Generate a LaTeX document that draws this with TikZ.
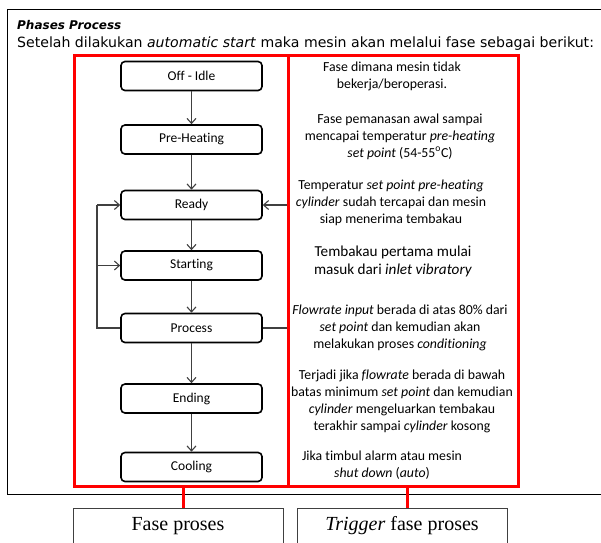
\documentclass[tikz,border=0pt]{standalone}
\usepackage{fontspec}
\setmainfont{Carlito}[Ligatures=NoCommon]
\newfontfamily\verd{DejaVu Sans}
\newfontfamily\tnr{Liberation Serif}
\usetikzlibrary{arrows.meta}
\definecolor{redb}{RGB}{255,0,0}
\definecolor{lineg}{RGB}{64,64,64}
\begin{document}
\begin{tikzpicture}[x=1pt,y=-1pt,
  phasebox/.style={draw=black, line width=1.6pt, rounded corners=4pt, minimum width=141pt, minimum height=29pt, inner sep=0pt, font=\fontsize{13.5}{15}\selectfont, fill=white},
  flow/.style={draw=lineg, line width=1.1pt, -{Straight Barb[length=5pt,width=9pt]}},
  link/.style={draw=lineg, line width=1.1pt},
  desc/.style={align=center, font=\fontsize{13.8}{17}\selectfont, inner sep=0pt},
  redframe/.style={draw=redb, line width=3pt},
  capbox/.style={draw=black!75, line width=0.8pt}
]
\useasboundingbox (0,0) rectangle (601,542);
\fill[white] (0,0) rectangle (601,542);
% outer frame
\draw[line width=0.9pt] (602,9) -- (7,9) -- (7,494) -- (602,494);
% header
\node[anchor=base west, inner sep=0pt, font=\verd\bfseries\itshape\fontsize{12}{13}\selectfont] (title) at (17,29) {Phases Process};
\node[anchor=base west, inner sep=0pt, font=\verd\fontsize{14.1}{15}\selectfont] (sub) at (17,47) {Setelah dilakukan \textit{automatic start} maka mesin akan melalui fase sebagai berikut:};
% red frames
\draw[redframe] (74,55) rectangle (288,486);
\draw[redframe] (288,55) rectangle (518,486);
\coordinate (lb) at (183,486);
\coordinate (rb) at (407,486);
% bottom caption boxes
\draw[capbox] (73,508) -- (73,543) (73,508) -- (283,508) -- (283,543);
\draw[capbox] (297,508) -- (297,543) (297,508) -- (507,508) -- (507,543);
\node[font=\tnr\fontsize{20}{22}\selectfont, inner sep=0pt] (capl) at (178,526) {Fase proses};
\node[font=\tnr\fontsize{20}{22}\selectfont, inner sep=0pt] (capr) at (402,526) {\textit{Trigger} fase proses};
\draw[redb, line width=3pt] (lb) -- (183,508);
\draw[redb, line width=3pt] (rb) -- (407,508);
% phase boxes
\node[phasebox] (off) at (191.5,76) {Off - Idle};
\node[phasebox] (pre) at (191.5,139.5) {Pre-Heating};
\node[phasebox] (ready) at (191.5,205) {Ready};
\node[phasebox] (start) at (191.5,265.5) {Starting};
\node[phasebox] (proc) at (191.5,328) {Process};
\node[phasebox] (end) at (191.5,398.5) {Ending};
\node[phasebox] (cool) at (191.5,467) {Cooling};
\draw[flow] (off) -- (pre);
\draw[flow] (pre) -- (ready);
\draw[flow] (ready) -- (start);
\draw[flow] (start) -- (proc);
\draw[flow] (proc) -- (end);
\draw[flow] (end) -- (cool);
% loops
\coordinate (lx) at (97,328);
\draw[link] (proc.west) -- (lx) -- (97,205);
\draw[flow] (97,205) -- (ready.west);
\draw[flow] (97,265.5) -- (start.west);
\coordinate (rx) at (287,328);
\draw[link] (proc.east) -- (rx);
\coordinate (ry) at (287,205);
\draw[flow] (ry) -- (ready.east);
% descriptions
\node[desc] (d1) at (392,76) {Fase dimana mesin tidak\\bekerja/beroperasi.};
\node[desc] (d2) at (400,136.5) {Fase pemanasan awal sampai\\mencapai temperatur \textit{pre-heating}\\\textit{set point} (54-55\textsuperscript{o}C)};
\node[desc] (d3) at (391,203) {Temperatur \textit{set point pre-heating}\\\textit{cylinder} sudah tercapai dan mesin\\siap menerima tembakau};
\node[desc, font=\fontsize{15.2}{18}\selectfont] (d4) at (393,261) {Tembakau pertama mulai\\masuk dari \textit{inlet vibratory}};
\node[desc] (d5) at (400,328) {\textit{Flowrate input} berada di atas 80\% dari\\\textit{set point} dan kemudian akan\\melakukan proses \textit{conditioning}};
\node[desc] (d6) at (402,401.5) {Terjadi jika \textit{flowrate} berada di bawah\\batas minimum \textit{set point} dan kemudian\\\textit{cylinder} mengeluarkan tembakau\\terakhir sampai \textit{cylinder} kosong};
\node[desc] (d7) at (382,465.5) {Jika timbul alarm atau mesin\\\textit{shut down} (\textit{auto})};
\end{tikzpicture}
\end{document}
